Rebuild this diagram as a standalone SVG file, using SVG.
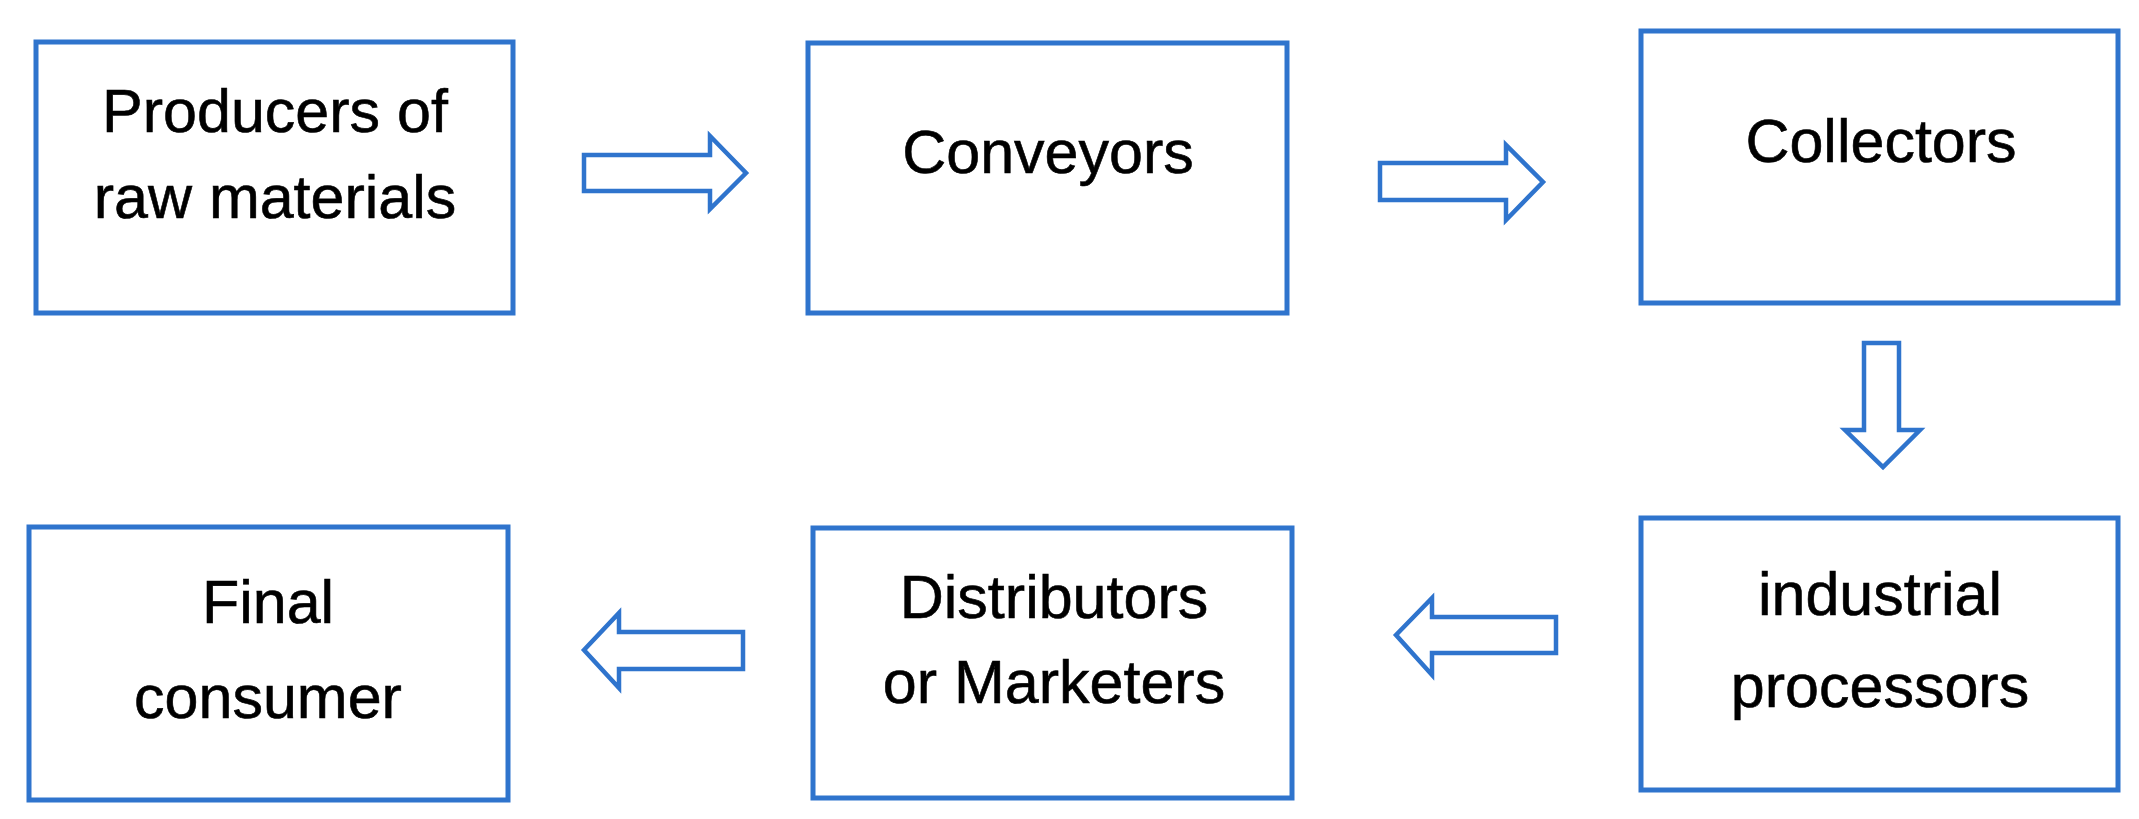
<svg xmlns="http://www.w3.org/2000/svg" width="2139" height="819" viewBox="0 0 2139 819">
<style>
.box{fill:#ffffff;stroke:#2f74cd;stroke-width:5}
.arr{fill:#ffffff;stroke:#2f74cd;stroke-width:4.5;stroke-linejoin:miter}
.t{font-family:"Liberation Sans",Arial,sans-serif;font-size:61px;fill:#000000;text-anchor:middle;stroke:#000000;stroke-width:0.6}
</style>
<rect width="2139" height="819" fill="#ffffff"/>
<g id="n1"><rect class="box" x="36" y="42" width="477" height="271"/><text class="t" x="275" y="132">Producers of</text><text class="t" x="275" y="218">raw materials</text></g>
<g id="n2"><rect class="box" x="808" y="43" width="479" height="270"/><text class="t" x="1048" y="173">Conveyors</text></g>
<g id="n3"><rect class="box" x="1641" y="31" width="477" height="272"/><text class="t" x="1881" y="162">Collectors</text></g>
<g id="n4"><rect class="box" x="1641" y="518" width="477" height="272"/><text class="t" x="1880" y="615">industrial</text><text class="t" x="1880" y="707">processors</text></g>
<g id="n5"><rect class="box" x="813" y="528" width="479" height="270"/><text class="t" x="1054" y="618">Distributors</text><text class="t" x="1054" y="703">or Marketers</text></g>
<g id="n6"><rect class="box" x="29" y="527" width="479" height="273"/><text class="t" x="268" y="623">Final</text><text class="t" x="268" y="718">consumer</text></g>
<g id="connectors">
<polygon class="arr" points="584,155 710,155 710,136 746,173 710,209 710,191 584,191"/>
<polygon class="arr" points="1380,163 1506,163 1506,145 1543,182 1506,220 1506,200 1380,200"/>
<polygon class="arr" points="1864,343 1899,343 1899,430 1920,430 1883,467 1845,430 1864,430"/>
<polygon class="arr" points="1556,617 1432,617 1432,598 1396,635 1432,675 1432,653 1556,653"/>
<polygon class="arr" points="743,632 619,632 619,613 584,650 619,688 619,669 743,669"/>
</g>
</svg>
